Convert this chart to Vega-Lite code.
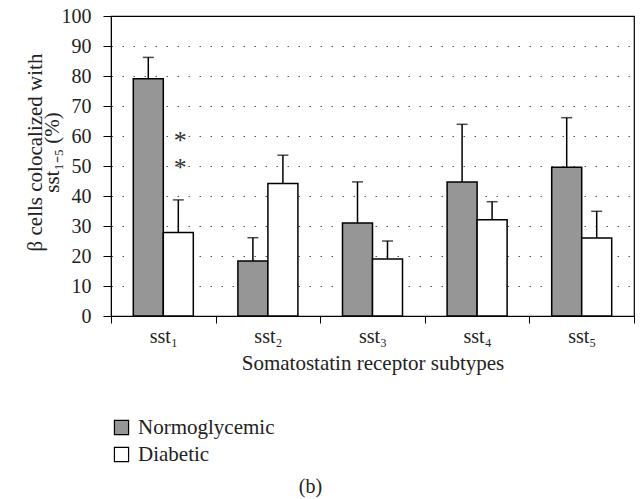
{
  "$schema": "https://vega.github.io/schema/vega-lite/v6.json",
  "width": 523,
  "height": 300,
  "autosize": "none",
  "padding": {"left": 111, "top": 16, "right": 6, "bottom": 183},
  "background": "white",
  "config": {
    "font": "Liberation Serif",
    "view": {"stroke": "black", "strokeWidth": 1.2},
    "axis": {"labelFont": "Liberation Serif", "titleFont": "Liberation Serif", "labelColor": "#222", "titleColor": "#222", "titleFontWeight": "normal"},
    "legend": {"labelFont": "Liberation Serif"}
  },
  "title": {"text": "(b)", "orient": "bottom", "anchor": "middle", "frame": "group", "font": "Liberation Serif", "fontSize": 20, "fontWeight": "normal", "color": "#222", "offset": 12, "dx": -62},
  "datasets": {
    "bars": [
      {"sub": "sst₁", "group": "Normoglycemic", "value": 79.1, "upper": 86.2},
      {"sub": "sst₁", "group": "Diabetic", "value": 27.8, "upper": 38.7},
      {"sub": "sst₂", "group": "Normoglycemic", "value": 18.3, "upper": 26.1},
      {"sub": "sst₂", "group": "Diabetic", "value": 44.2, "upper": 53.6},
      {"sub": "sst₃", "group": "Normoglycemic", "value": 31.0, "upper": 44.7},
      {"sub": "sst₃", "group": "Diabetic", "value": 19.0, "upper": 25.0},
      {"sub": "sst₄", "group": "Normoglycemic", "value": 44.7, "upper": 63.9},
      {"sub": "sst₄", "group": "Diabetic", "value": 32.1, "upper": 38.1},
      {"sub": "sst₅", "group": "Normoglycemic", "value": 49.6, "upper": 66.1},
      {"sub": "sst₅", "group": "Diabetic", "value": 26.0, "upper": 34.9}
    ],
    "stars": [
      {"sub": "sst₁", "group": "Diabetic", "y": 58.5, "label": "*"},
      {"sub": "sst₁", "group": "Diabetic", "y": 49.5, "label": "*"}
    ]
  },
  "encoding": {
    "x": {
      "field": "sub", "type": "nominal", "sort": null,
      "scale": {"paddingInner": 0, "paddingOuter": 0},
      "axis": {"title": "Somatostatin receptor subtypes", "labelAngle": 0, "labelFontSize": 20, "titleFontSize": 21, "tickBand": "extent", "tickSize": 7, "tickColor": "black", "domainColor": "black", "labelPadding": 3, "titlePadding": 6}
    },
    "xOffset": {"field": "group", "type": "nominal", "sort": ["Normoglycemic", "Diabetic"], "scale": {"paddingInner": 0, "paddingOuter": 0.743}}
  },
  "layer": [
    {
      "data": {"name": "bars"},
      "mark": {"type": "bar", "stroke": "black", "strokeWidth": 1.5},
      "encoding": {
        "y": {
          "field": "value", "type": "quantitative",
          "scale": {"domain": [0, 100], "nice": false},
          "axis": {"values": [0, 10, 20, 30, 40, 50, 60, 70, 80, 90, 100], "labelOverlap": false, "title": ["β cells colocalized with", "sst₁₋₅ (%)"], "labelFontSize": 20, "titleFontSize": 21, "titleLineHeight": 17, "tickSize": 8, "tickColor": "black", "domainColor": "black", "labelPadding": 12, "grid": true, "gridColor": "#555", "gridDash": [1.5, 9.5], "gridWidth": 1.2, "gridOpacity": {"condition": {"test": "datum.value >= 100", "value": 0}, "value": 1}, "titleX": -76, "titleY": 136, "titleAngle": -90, "titleAlign": "center", "titleBaseline": "middle"}
        },
        "fill": {
          "field": "group", "type": "nominal",
          "scale": {"domain": ["Normoglycemic", "Diabetic"], "range": ["#969696", "#ffffff"]},
          "legend": {"title": null, "orient": "none", "legendX": 0, "legendY": 401, "symbolType": "square", "symbolSize": 200, "symbolStrokeColor": "black", "symbolStrokeWidth": 1.2, "labelFontSize": 21, "labelColor": "#222", "rowPadding": 5, "labelOffset": 6}
        }
      }
    },
    {
      "data": {"name": "bars"},
      "mark": {"type": "rule", "color": "black", "strokeWidth": 1.5},
      "encoding": {
        "y": {
          "field": "value", "type": "quantitative",
          "axis": {"values": [0, 10, 20, 30, 40, 50, 60, 70, 80, 90, 100], "labelOverlap": false, "title": ["β cells colocalized with", "sst₁₋₅ (%)"], "labelFontSize": 20, "titleFontSize": 21, "titleLineHeight": 17, "tickSize": 8, "tickColor": "black", "domainColor": "black", "labelPadding": 12, "grid": true, "gridColor": "#555", "gridDash": [1.5, 9.5], "gridWidth": 1.2, "gridOpacity": {"condition": {"test": "datum.value >= 100", "value": 0}, "value": 1}, "titleX": -76, "titleY": 136, "titleAngle": -90, "titleAlign": "center", "titleBaseline": "middle"}
        },
        "y2": {"field": "upper"}
      }
    },
    {
      "data": {"name": "bars"},
      "mark": {"type": "tick", "color": "black", "thickness": 1.5, "size": 11, "orient": "horizontal"},
      "encoding": {
        "y": {
          "field": "upper", "type": "quantitative",
          "axis": {"values": [0, 10, 20, 30, 40, 50, 60, 70, 80, 90, 100], "labelOverlap": false, "title": ["β cells colocalized with", "sst₁₋₅ (%)"], "labelFontSize": 20, "titleFontSize": 21, "titleLineHeight": 17, "tickSize": 8, "tickColor": "black", "domainColor": "black", "labelPadding": 12, "grid": true, "gridColor": "#555", "gridDash": [1.5, 9.5], "gridWidth": 1.2, "gridOpacity": {"condition": {"test": "datum.value >= 100", "value": 0}, "value": 1}, "titleX": -76, "titleY": 136, "titleAngle": -90, "titleAlign": "center", "titleBaseline": "middle"}
        }
      }
    },
    {
      "data": {"name": "stars"},
      "mark": {"type": "text", "fontSize": 26, "color": "#333", "baseline": "middle", "dx": 2},
      "encoding": {
        "y": {
          "field": "y", "type": "quantitative",
          "axis": {"values": [0, 10, 20, 30, 40, 50, 60, 70, 80, 90, 100], "labelOverlap": false, "title": ["β cells colocalized with", "sst₁₋₅ (%)"], "labelFontSize": 20, "titleFontSize": 21, "titleLineHeight": 17, "tickSize": 8, "tickColor": "black", "domainColor": "black", "labelPadding": 12, "grid": true, "gridColor": "#555", "gridDash": [1.5, 9.5], "gridWidth": 1.2, "gridOpacity": {"condition": {"test": "datum.value >= 100", "value": 0}, "value": 1}, "titleX": -76, "titleY": 136, "titleAngle": -90, "titleAlign": "center", "titleBaseline": "middle"}
        },
        "text": {"field": "label"}
      }
    }
  ]
}
